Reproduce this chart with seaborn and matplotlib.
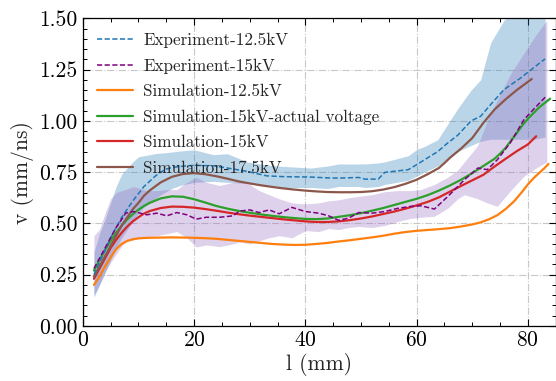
import numpy as np
import pandas as pd
import seaborn as sns
import matplotlib
matplotlib.use("Agg")
import matplotlib.pyplot as plt

# ---------------------------------------------------------------- data
# Experiment 12.5 kV: mean velocity with spread band
exp125_l = [2, 3, 4, 5, 6, 7, 8, 9, 10, 11, 12, 13, 14, 15, 16, 17.5, 20, 23.5, 26,
            29.5, 33, 36, 41, 44, 46, 49.6, 50.7, 53.1, 54.3, 58.5, 60, 61.4, 63.8,
            65.5, 67.4, 69.8, 71.5, 73.3, 75.7, 78.7, 81, 83.1]
exp125_v = [0.25, 0.31, 0.37, 0.43, 0.48, 0.53, 0.57, 0.61, 0.645, 0.68, 0.705, 0.73,
            0.75, 0.765, 0.772, 0.778, 0.783, 0.781, 0.77, 0.754, 0.732, 0.728, 0.726,
            0.722, 0.721, 0.724, 0.716, 0.716, 0.749, 0.762, 0.786, 0.81, 0.85, 0.89,
            0.93, 1.0, 1.022, 1.079, 1.152, 1.209, 1.258, 1.302]
exp125_lo = [0.14, 0.2, 0.26, 0.32, 0.38, 0.43, 0.47, 0.51, 0.55, 0.58, 0.6, 0.62,
             0.64, 0.655, 0.67, 0.685, 0.7, 0.705, 0.7, 0.695, 0.68, 0.675, 0.675,
             0.67, 0.68, 0.68, 0.675, 0.68, 0.69, 0.71, 0.73, 0.75, 0.78, 0.81, 0.85,
             0.88, 0.9, 0.91, 0.91, 0.91, 0.91, 0.92]
exp125_hi = [0.36, 0.45, 0.52, 0.6, 0.68, 0.74, 0.77, 0.8, 0.825, 0.83, 0.835, 0.84,
             0.843, 0.845, 0.848, 0.853, 0.859, 0.835, 0.84, 0.8, 0.785, 0.778, 0.77,
             0.78, 0.79, 0.79, 0.79, 0.795, 0.8, 0.83, 0.86, 0.875, 0.908, 0.98, 1.06,
             1.15, 1.2, 1.38, 1.49, 1.56, 1.6, 1.62]

# Experiment 15 kV: mean velocity with spread band
exp15_l = [2, 3, 4, 5, 6, 7, 7.7, 9.1, 10.3, 11.5, 13.3, 15.1, 16.9, 18.7, 20.4, 22.2,
           24.6, 27, 28.2, 30, 31.7, 33.5, 35.3, 37.6, 40, 42.4, 44.2, 46, 47.8, 49.6,
           52, 54.3, 56.7, 59, 60.8, 63.2, 65.6, 67.4, 68.6, 71, 72.7, 74.5, 76.9,
           79.3, 81.5, 83.4]
exp15_v = [0.28, 0.33, 0.38, 0.43, 0.48, 0.52, 0.55, 0.558, 0.55, 0.542, 0.55, 0.537,
           0.553, 0.542, 0.521, 0.53, 0.53, 0.537, 0.56, 0.566, 0.553, 0.566, 0.547,
           0.578, 0.558, 0.55, 0.537, 0.515, 0.526, 0.553, 0.55, 0.558, 0.574, 0.583,
           0.586, 0.57, 0.631, 0.68, 0.713, 0.77, 0.762, 0.81, 0.895, 1.006, 1.07,
           1.123]
exp15_lo = [0.15, 0.2, 0.26, 0.31, 0.35, 0.39, 0.41, 0.42, 0.43, 0.436, 0.44, 0.45,
            0.46, 0.43, 0.385, 0.395, 0.387, 0.4, 0.41, 0.4, 0.415, 0.43, 0.44, 0.43,
            0.465, 0.46, 0.475, 0.47, 0.48, 0.485, 0.48, 0.49, 0.51, 0.525, 0.53,
            0.535, 0.574, 0.62, 0.64, 0.62, 0.6, 0.583, 0.66, 0.73, 0.77, 0.8]
exp15_hi = [0.44, 0.47, 0.55, 0.62, 0.65, 0.66, 0.665, 0.68, 0.67, 0.66, 0.66, 0.665,
            0.665, 0.7, 0.725, 0.7, 0.685, 0.7, 0.705, 0.69, 0.66, 0.64, 0.62, 0.6,
            0.595, 0.6, 0.61, 0.615, 0.625, 0.632, 0.64, 0.655, 0.66, 0.66, 0.665,
            0.69, 0.725, 0.76, 0.8, 0.88, 1.0, 1.1, 1.23, 1.33, 1.42, 1.49]

# Simulation 12.5 kV
sim125_l = [2, 3, 4, 5, 6, 7, 8, 9, 10, 11, 12, 14, 16, 18, 20, 22, 24, 26, 28, 30,
            32, 34, 36, 38, 40, 42, 44, 46, 48, 50, 52, 54, 56, 58, 60, 62, 64, 66,
            68, 70, 71.5, 73, 74.5, 76, 77.5, 79, 80, 81, 82, 83, 83.7]
sim125_v = [0.2, 0.24, 0.29, 0.335, 0.375, 0.4, 0.415, 0.423, 0.427, 0.429, 0.43,
            0.431, 0.432, 0.431, 0.43, 0.428, 0.425, 0.42, 0.415, 0.41, 0.405, 0.4,
            0.397, 0.395, 0.396, 0.4, 0.405, 0.412, 0.418, 0.425, 0.432, 0.44, 0.45,
            0.458, 0.464, 0.468, 0.472, 0.477, 0.485, 0.495, 0.505, 0.52, 0.54, 0.57,
            0.607, 0.655, 0.69, 0.72, 0.745, 0.77, 0.79]

# Simulation 15 kV with the measured (actual) voltage
sim15a_l = [2, 3, 4, 5, 6, 7, 8, 9, 10, 11, 12, 14, 16, 18, 20, 22, 24, 26, 28, 30,
            32, 34, 36, 38, 40, 42, 44, 46, 48, 50, 52, 54, 56, 58, 60, 62, 64, 66,
            68, 70, 72, 74, 75, 76, 77, 78, 79, 80, 82, 84]
sim15a_v = [0.27, 0.32, 0.37, 0.415, 0.455, 0.49, 0.52, 0.545, 0.567, 0.585, 0.6,
            0.622, 0.632, 0.63, 0.618, 0.602, 0.585, 0.572, 0.561, 0.552, 0.544,
            0.537, 0.531, 0.526, 0.522, 0.521, 0.524, 0.532, 0.54, 0.55, 0.562, 0.575,
            0.59, 0.605, 0.62, 0.638, 0.66, 0.685, 0.713, 0.745, 0.78, 0.815, 0.84,
            0.868, 0.905, 0.94, 0.978, 1.01, 1.065, 1.108]

# Simulation 15 kV
sim15_l = [2, 3, 4, 5, 6, 7, 8, 9, 10, 11, 12, 14, 16, 18, 20, 22, 24, 26, 28, 30, 32,
           34, 36, 38, 40, 42, 44, 46, 48, 50, 52, 54, 56, 58, 60, 62, 64, 66, 68, 70,
           72, 74, 76, 78, 80, 81.5]
sim15_v = [0.23, 0.28, 0.33, 0.38, 0.42, 0.455, 0.485, 0.51, 0.53, 0.548, 0.56, 0.575,
           0.582, 0.581, 0.577, 0.57, 0.562, 0.553, 0.545, 0.538, 0.532, 0.526, 0.52,
           0.515, 0.51, 0.507, 0.507, 0.51, 0.516, 0.524, 0.534, 0.546, 0.558, 0.572,
           0.588, 0.605, 0.627, 0.655, 0.683, 0.71, 0.737, 0.777, 0.815, 0.852,
           0.885, 0.925]

# Simulation 17.5 kV
sim175_l = [2, 3, 4, 5, 6, 7, 8, 9, 10, 11, 12, 14, 16, 18, 20, 22, 24, 26, 28, 30,
            32, 34, 36, 38, 40, 42, 44, 46, 48, 50, 52, 54, 56, 58, 60, 62, 64, 65,
            66, 68, 70, 72, 74, 76, 78, 80, 80.7]
sim175_v = [0.24, 0.29, 0.34, 0.39, 0.44, 0.49, 0.53, 0.57, 0.6, 0.635, 0.66, 0.7,
            0.727, 0.741, 0.745, 0.74, 0.73, 0.718, 0.705, 0.695, 0.686, 0.678, 0.671,
            0.665, 0.66, 0.656, 0.653, 0.652, 0.652, 0.653, 0.657, 0.665, 0.677,
            0.693, 0.713, 0.74, 0.77, 0.794, 0.82, 0.865, 0.916, 0.99, 1.055, 1.105,
            1.15, 1.19, 1.204]

x_ticks = [0, 20, 40, 60, 80]
y_ticks = [0.00, 0.25, 0.50, 0.75, 1.00, 1.25, 1.50]

# ---------------------------------------------------------------- style
sns.set_theme(style="ticks")
plt.rcParams.update({
    "font.family": ["cmr10", "DejaVu Serif"],
    "mathtext.fontset": "cm",
    "axes.formatter.use_mathtext": True,
    "axes.unicode_minus": False,
    "axes.edgecolor": "black",
    "axes.linewidth": 0.9,
    "xtick.direction": "in",
    "ytick.direction": "in",
    "xtick.top": True,
    "ytick.right": True,
    "xtick.minor.visible": True,
    "ytick.minor.visible": True,
    "xtick.major.size": 5,
    "ytick.major.size": 5,
    "xtick.minor.size": 2.8,
    "ytick.minor.size": 2.8,
    "xtick.major.width": 0.8,
    "ytick.major.width": 0.8,
    "xtick.minor.width": 0.7,
    "ytick.minor.width": 0.7,
    "xtick.color": "black",
    "ytick.color": "black",
    "xtick.labelsize": 15.5,
    "ytick.labelsize": 15.5,
    "axes.labelsize": 15.5,
})

fig = plt.figure(figsize=(5.56, 3.81), dpi=100)
ax = fig.add_axes([0.1489, 0.1444, 0.8505, 0.8076])

C_BLUE = "#1f77b4"
C_PURPLE = "#800080"
C_BAND_PURPLE = "#9467bd"
C_ORANGE = "#ff7f0e"
C_GREEN = "#2ca02c"
C_RED = "#d62728"
C_BROWN = "#8c564b"

# spread bands of the two experiments
ax.fill_between(exp125_l, exp125_lo, exp125_hi, color=C_BLUE, alpha=0.3, lw=0, zorder=1)
ax.fill_between(exp15_l, exp15_lo, exp15_hi, color=C_BAND_PURPLE, alpha=0.3, lw=0, zorder=1)

sims = [
    ("Simulation-12.5kV", sim125_l, sim125_v, C_ORANGE),
    ("Simulation-15kV-actual voltage", sim15a_l, sim15a_v, C_GREEN),
    ("Simulation-15kV", sim15_l, sim15_v, C_RED),
    ("Simulation-17.5kV", sim175_l, sim175_v, C_BROWN),
]
for label, l, v, c in sims:
    sns.lineplot(x=l, y=v, ax=ax, color=c, lw=1.6, label=label, zorder=3)

sns.lineplot(x=exp125_l, y=exp125_v, ax=ax, color=C_BLUE, lw=1.1,
             linestyle="--", dashes=False, label="Experiment-12.5kV", zorder=4)
sns.lineplot(x=exp15_l, y=exp15_v, ax=ax, color=C_PURPLE, lw=1.1,
             linestyle="--", dashes=False, label="Experiment-15kV", zorder=4)
for line in ax.get_lines()[-2:]:
    line.set_dashes([3.4, 1.6])

ax.set_xlim(0, 85)
ax.set_ylim(0, 1.5)
ax.set_xticks(x_ticks)
ax.set_yticks(y_ticks)
ax.set_yticklabels([f"{t:.2f}" for t in y_ticks])
ax.xaxis.set_minor_locator(matplotlib.ticker.MultipleLocator(5))
ax.yaxis.set_minor_locator(matplotlib.ticker.MultipleLocator(0.05))
ax.grid(True, which="major", color="#c8c8c8", linestyle="-.", linewidth=0.8, zorder=0)
ax.set_axisbelow(True)
ax.set_xlabel("l (mm)", labelpad=2)
ax.set_ylabel("v (mm/ns)", labelpad=4)
for s in ax.spines.values():
    s.set_color("black")

handles, labels = ax.get_legend_handles_labels()
order = ["Experiment-12.5kV", "Experiment-15kV", "Simulation-12.5kV",
         "Simulation-15kV-actual voltage", "Simulation-15kV", "Simulation-17.5kV"]
hmap = dict(zip(labels, handles))
leg = ax.legend([hmap[k] for k in order], order, loc="upper left", frameon=False,
                fontsize=12.3, handlelength=2.1, handletextpad=0.6, labelspacing=0.6,
                borderaxespad=0.45, borderpad=0.4)
leg.set_zorder(5)

fig.savefig("out.png", dpi=100)
